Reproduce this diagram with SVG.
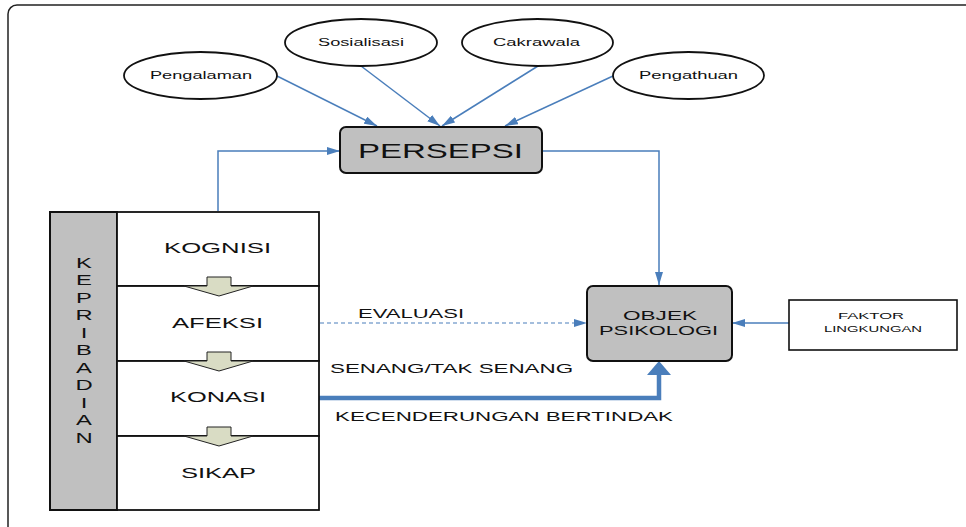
<svg xmlns="http://www.w3.org/2000/svg" width="966" height="527" viewBox="0 0 966 527">
  <style>
    text { font-family: "Liberation Sans", Arial, sans-serif; fill: #111; }
    .oval { fill: #fff; stroke: #111; stroke-width: 1.8; }
    .gray { fill: #c0c0c0; stroke: #111; stroke-width: 2; }
    .cell { fill: #fff; stroke: #111; stroke-width: 1.8; }
    .box { fill: #fff; stroke: #111; stroke-width: 1.6; }
    .link { fill: none; stroke: #4a7ebb; stroke-width: 1.5; }
    .dash { fill: none; stroke: #4a7ebb; stroke-width: 1.2; stroke-dasharray: 4 3; }
    .down { fill: #d9dcc4; stroke: #222; stroke-width: 1; }
  </style>
  <defs>
    <marker id="tip" markerUnits="userSpaceOnUse" markerWidth="13" markerHeight="8" refX="13" refY="4" orient="auto">
      <path d="M0,0 L13,4 L0,8 z" fill="#4a7ebb"/>
    </marker>
  </defs>

  <rect width="966" height="527" fill="#fff"/>
  <!-- outer frame -->
  <rect x="8" y="5" width="1000" height="560" rx="9" fill="none" stroke="#222" stroke-width="1.5"/>

  <!-- connectors -->
  <g id="connectors">
    <line class="link" x1="277" y1="76" x2="377" y2="126" marker-end="url(#tip)"/>
    <line class="link" x1="361" y1="66" x2="440" y2="126" marker-end="url(#tip)"/>
    <line class="link" x1="538" y1="66" x2="442" y2="126" marker-end="url(#tip)"/>
    <line class="link" x1="613" y1="76" x2="505" y2="126" marker-end="url(#tip)"/>
    <polyline class="link" points="218,211 218,151 340,151" marker-end="url(#tip)"/>
    <polyline class="link" points="542,151 659,151 659,285" marker-end="url(#tip)"/>
    <line class="link" x1="789" y1="323" x2="732" y2="323" marker-end="url(#tip)"/>
    <line class="dash" x1="320" y1="323" x2="587" y2="323" marker-end="url(#tip)"/>
    <!-- thick action arrow -->
    <polyline points="318,398 659,398 659,374" fill="none" stroke="#4a7ebb" stroke-width="4.5" stroke-linejoin="miter"/>
    <path d="M647,375 L659,361 L671,375 z" fill="#4a7ebb"/>
  </g>

  <!-- input ovals -->
  <g id="pengalaman">
    <ellipse class="oval" cx="200.5" cy="75.5" rx="76.5" ry="23.5"/>
    <text transform="translate(150 79) scale(1.6 1)" font-size="11.5" textLength="63.75" lengthAdjust="spacingAndGlyphs">Pengalaman</text>
  </g>
  <g id="sosialisasi">
    <ellipse class="oval" cx="361" cy="42.5" rx="76" ry="23.5"/>
    <text transform="translate(318 46) scale(1.6 1)" font-size="11.5" textLength="53.75" lengthAdjust="spacingAndGlyphs">Sosialisasi</text>
  </g>
  <g id="cakrawala">
    <ellipse class="oval" cx="537.5" cy="42.5" rx="75.5" ry="23.5"/>
    <text transform="translate(493 46) scale(1.6 1)" font-size="11.5" textLength="54.4" lengthAdjust="spacingAndGlyphs">Cakrawala</text>
  </g>
  <g id="pengathuan">
    <ellipse class="oval" cx="688.5" cy="75.5" rx="75.5" ry="23.5"/>
    <text transform="translate(639 79) scale(1.6 1)" font-size="11.5" textLength="61.9" lengthAdjust="spacingAndGlyphs">Pengathuan</text>
  </g>

  <!-- perception -->
  <g id="persepsi">
    <rect class="gray" x="340" y="127" width="202" height="46" rx="6"/>
    <text transform="translate(358 158) scale(1.6 1)" font-size="21" textLength="103.1" lengthAdjust="spacingAndGlyphs">PERSEPSI</text>
  </g>

  <!-- personality column -->
  <g id="kepribadian">
    <rect class="gray" x="50" y="212" width="67" height="298"/>
    <g transform="translate(84 0) scale(1.7 1)" font-size="14" text-anchor="middle">
      <text x="0" y="268">K</text>
      <text x="0" y="285.5">E</text>
      <text x="0" y="303">P</text>
      <text x="0" y="320.5">R</text>
      <text x="0" y="338">I</text>
      <text x="0" y="355.5">B</text>
      <text x="0" y="373">A</text>
      <text x="0" y="390.5">D</text>
      <text x="0" y="408">I</text>
      <text x="0" y="425.5">A</text>
      <text x="0" y="443">N</text>
    </g>
  </g>
  <g id="kognisi">
    <rect class="cell" x="117" y="212" width="202" height="74"/>
    <text transform="translate(164 253) scale(1.6 1)" font-size="14" textLength="66.9" lengthAdjust="spacingAndGlyphs">KOGNISI</text>
  </g>
  <g id="afeksi">
    <rect class="cell" x="117" y="286" width="202" height="75"/>
    <text transform="translate(172 328) scale(1.6 1)" font-size="14" textLength="56.9" lengthAdjust="spacingAndGlyphs">AFEKSI</text>
  </g>
  <g id="konasi">
    <rect class="cell" x="117" y="361" width="202" height="75"/>
    <text transform="translate(170 402) scale(1.6 1)" font-size="14" textLength="60" lengthAdjust="spacingAndGlyphs">KONASI</text>
  </g>
  <g id="sikap">
    <rect class="cell" x="117" y="436" width="202" height="74"/>
    <text transform="translate(181 478) scale(1.6 1)" font-size="14" textLength="46.9" lengthAdjust="spacingAndGlyphs">SIKAP</text>
  </g>

  <!-- block arrows between stages -->
  <g id="flow-arrows">
    <path class="down" d="M207,277 H231 V286 H253 L219,296 L184,286 H207 Z"/>
    <path class="down" d="M207,352 H231 V361 H253 L219,371 L184,361 H207 Z"/>
    <path class="down" d="M207,427 H231 V436 H253 L219,446 L184,436 H207 Z"/>
  </g>

  <!-- connector labels -->
  <g id="labels" font-size="12.5">
    <text transform="translate(358 318) scale(1.6 1)" textLength="66.25" lengthAdjust="spacingAndGlyphs">EVALUASI</text>
    <text transform="translate(330 373) scale(1.6 1)" textLength="151.9" lengthAdjust="spacingAndGlyphs">SENANG/TAK SENANG</text>
    <text transform="translate(335 421) scale(1.6 1)" textLength="211.25" lengthAdjust="spacingAndGlyphs">KECENDERUNGAN BERTINDAK</text>
  </g>

  <!-- psychological object -->
  <g id="objek">
    <rect class="gray" x="587" y="286" width="145" height="75" rx="6"/>
    <text transform="translate(623 320) scale(1.6 1)" font-size="13" textLength="46.25" lengthAdjust="spacingAndGlyphs">OBJEK</text>
    <text transform="translate(599 335) scale(1.6 1)" font-size="13" textLength="74.4" lengthAdjust="spacingAndGlyphs">PSIKOLOGI</text>
  </g>

  <!-- environment factor -->
  <g id="faktor">
    <rect class="box" x="789" y="300" width="168" height="50"/>
    <text transform="translate(838 319) scale(1.6 1)" font-size="9.5" textLength="41.25" lengthAdjust="spacingAndGlyphs">FAKTOR</text>
    <text transform="translate(824 332) scale(1.6 1)" font-size="9.5" textLength="61.25" lengthAdjust="spacingAndGlyphs">LINGKUNGAN</text>
  </g>
</svg>
